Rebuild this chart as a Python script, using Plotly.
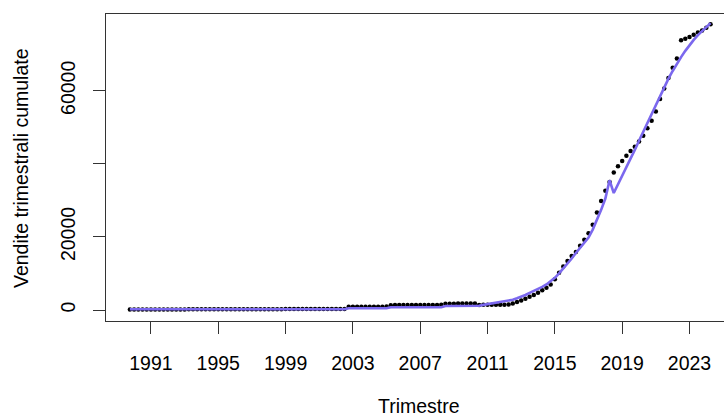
import numpy as np
import plotly.graph_objects as go

# Quarterly time index (ts starting 1989 Q4, frequency 4)
first_quarter = 1989.75

# Observed cumulative quarterly sales
cum_sales = [
    120, 125, 130, 135, 140, 145, 150, 150, 155, 160, 160, 165, 170,
    170, 175, 180, 180, 185, 190, 190, 195, 200, 200, 205, 205, 210,
    210, 215, 215, 220, 220, 225, 225, 230, 230, 235, 235, 240, 240,
    245, 245, 250, 250, 255, 255, 260, 260, 265, 265, 270, 270, 275,
    860, 870, 880, 890, 900, 905, 910, 915, 920, 930,
    1330, 1340, 1350, 1355, 1360, 1365, 1370, 1375, 1380, 1390, 1395, 1400, 1410,
    1720, 1730, 1740, 1750, 1760, 1770, 1780, 1790,
    1400, 1410, 1420, 1430, 1440, 1450, 1460,
    1500,
    1800, 2200, 2600, 3100, 3600, 4100, 4700, 5400, 6100, 7000,
    8400, 10200, 11900, 13400, 14800, 15900, 17600, 19200, 21000, 23300,
    26700, 29800, 32600, 35000, 37600, 39300, 40800, 42200, 43500, 44700,
    46100, 47700, 49700, 51800, 54300, 57700, 60600, 63500, 66300, 68800,
    73800, 74200, 74700, 75300, 75900, 76500, 77200, 78200,
]

# Fitted cumulative curve
fitted = [
    190, 190, 190, 190, 190, 190, 190, 190, 190, 190, 190, 190, 190,
    190, 190, 190, 190, 190, 190, 190, 190, 190, 190, 190, 190, 190,
    190, 190, 190, 190, 190, 190, 190, 190, 190, 190, 190, 190, 190,
    190, 190, 190, 190, 190, 190, 190, 190, 190, 190, 190, 190, 190,
    470, 470, 470, 470, 470, 470, 470, 470, 470, 470,
    760, 760, 760, 760, 760, 760, 760, 760, 760, 760, 760, 760, 760,
    1100, 1100, 1100, 1100, 1100, 1100, 1100, 1100,
    1150, 1400, 1600, 1750, 1850, 2100, 2350,
    2550,
    2800, 3200, 3600, 4100, 4700, 5200, 5800, 6300, 7000, 7800,
    8800, 10000, 11300, 12600, 14100, 15600, 17000, 18300, 19800, 22000,
    24500, 27400, 30500, 35500, 32000, 34300, 36700, 39000, 41400, 43800,
    46300, 48800, 51300, 53800, 56300, 58800, 61100, 63300, 65400, 67400,
    69200, 70900, 72500, 73900, 75200, 76400, 77500, 78500,
]

x_ticks = [1991, 1995, 1999, 2003, 2007, 2011, 2015, 2019, 2023]
y_ticks = [0, 20000, 40000, 60000]
y_tick_text = ["0", "20000", "", "60000"]

quarters = first_quarter + 0.25 * np.arange(len(cum_sales))

FONT = "Liberation Sans, Arial, sans-serif"
AXIS_COLOR = "#333333"

fig = go.Figure()
fig.add_trace(go.Scatter(
    x=quarters, y=cum_sales, mode="markers",
    marker=dict(color="black", size=4.5),
    showlegend=False,
))
fig.add_trace(go.Scatter(
    x=quarters, y=fitted, mode="lines",
    line=dict(color="#7B68EE", width=2.6),
    showlegend=False,
))

fig.update_layout(
    width=724, height=419,
    margin=dict(l=106, r=0, t=14, b=98),
    paper_bgcolor="white", plot_bgcolor="white",
    font=dict(family=FONT, size=19.5, color="black"),
    xaxis=dict(
        range=[1988.33, 2025.05],
        tickvals=x_ticks, ticktext=[str(v) for v in x_ticks],
        ticks="outside", ticklen=12, tickwidth=1.2, tickcolor=AXIS_COLOR,
        showline=True, mirror=True, linecolor=AXIS_COLOR, linewidth=1.2,
        showgrid=False, zeroline=False,
        ticklabelstandoff=12,
    ),
    yaxis=dict(
        range=[-3010, 80990],
        tickvals=y_ticks, ticktext=y_tick_text, tickangle=-90,
        ticks="outside", ticklen=12, tickwidth=1.2, tickcolor=AXIS_COLOR,
        showline=True, linecolor=AXIS_COLOR, linewidth=1.2,
        showgrid=False, zeroline=False,
        ticklabelstandoff=10,
    ),
    annotations=[
        dict(text="Trimestre", xref="paper", yref="paper",
             x=(419 - 106) / 618, y=(321 - 406.5) / 307,
             xanchor="center", yanchor="middle", showarrow=False,
             font=dict(family=FONT, size=19.5, color="black")),
        dict(text="Vendite trimestrali cumulate", xref="paper", yref="paper",
             x=(21 - 106) / 618, y=(321 - 168) / 307, textangle=-90,
             xanchor="center", yanchor="middle", showarrow=False,
             font=dict(family=FONT, size=19.5, color="black")),
    ],
)

fig.write_html("out.html")
